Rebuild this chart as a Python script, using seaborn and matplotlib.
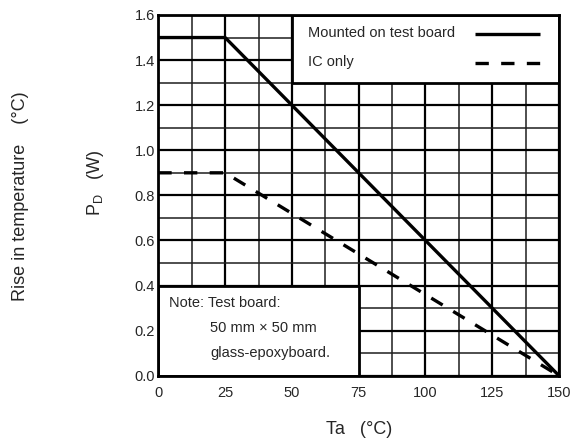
import matplotlib
matplotlib.use('Agg')
import matplotlib.pyplot as plt
from matplotlib.patches import Rectangle
from matplotlib.ticker import MultipleLocator, FormatStrFormatter
import seaborn as sns
import pandas as pd

# Derating curve data (Ta in degC, PD in W)
ta = [0, 25, 150]
pd_board = [1.5, 1.5, 0.0]
pd_ic = [0.9, 0.9, 0.0]

series_labels = ['Mounted on test board', 'IC only']
note_lines = ['Note: Test board:', '50 mm \u00d7 50 mm', 'glass-epoxyboard.']

df = pd.DataFrame({'Ta': ta, 'board': pd_board, 'ic': pd_ic})

sns.set_style('white')
plt.rcParams['font.family'] = ['Liberation Sans', 'DejaVu Sans']
plt.rcParams['mathtext.fontset'] = 'custom'
plt.rcParams['mathtext.rm'] = 'Liberation Sans'
plt.rcParams['mathtext.default'] = 'rm'

fig = plt.figure(figsize=(5.72, 4.41), dpi=100)
ax = fig.add_axes([0.2768, 0.148, 0.7005, 0.818])

lw = 2.4
dash = (0, (4.0, 3.7))

sns.lineplot(data=df, x='Ta', y='board', ax=ax, color='black', linewidth=lw, zorder=4)
sns.lineplot(data=df, x='Ta', y='ic', ax=ax, color='black', linewidth=lw,
             linestyle=dash, zorder=4)

ax.set_xlim(0, 150)
ax.set_ylim(0, 1.6)
ax.xaxis.set_major_locator(MultipleLocator(25))
ax.xaxis.set_minor_locator(MultipleLocator(12.5))
ax.yaxis.set_major_locator(MultipleLocator(0.2))
ax.yaxis.set_minor_locator(MultipleLocator(0.1))
ax.yaxis.set_major_formatter(FormatStrFormatter('%.1f'))

ax.set_axisbelow(True)
ax.grid(which='major', color='black', linewidth=1.6)
ax.grid(which='minor', color='#1e1e1e', linewidth=1.1)
ax.tick_params(which='both', length=0, labelsize=10.5)
ax.tick_params(axis='x', pad=7.5)
ax.tick_params(axis='y', pad=2.5)

for s in ax.spines.values():
    s.set_visible(True)
    s.set_color('black')
    s.set_linewidth(2.0)

# white boxes hiding the grid (legend area and note area)
ax.add_patch(Rectangle((50, 1.3), 100, 0.3, facecolor='white', edgecolor='black',
                       linewidth=2.0, zorder=2))
ax.add_patch(Rectangle((0, 0), 75, 0.4, facecolor='white', edgecolor='black',
                       linewidth=2.0, zorder=2))

# legend drawn inside the top-right box
ax.text(56.2, 1.519, series_labels[0], fontsize=10.5, va='center', ha='left', zorder=5)
ax.text(56.2, 1.393, series_labels[1], fontsize=10.5, va='center', ha='left', zorder=5)
ax.plot([118.4, 142.7], [1.514, 1.514], color='black', linewidth=lw, zorder=5,
        solid_capstyle='butt')
ax.plot([118.4, 142.7], [1.389, 1.389], color='black', linewidth=lw, zorder=5,
        linestyle=(0, (4.0, 3.7)), dash_capstyle='butt')

# note text
ax.text(4.1, 0.324, note_lines[0], fontsize=10.5, va='center', ha='left', zorder=5)
ax.text(19.4, 0.210, note_lines[1], fontsize=10.5, va='center', ha='left', zorder=5)
ax.text(19.4, 0.099, note_lines[2], fontsize=10.5, va='center', ha='left', zorder=5)

ax.set_xlabel('Ta   (\u00b0C)', fontsize=13)
ax.set_ylabel('P$_\\mathrm{D}$   (W)', fontsize=13)
ax.xaxis.set_label_coords(0.5, -0.125)
ax.yaxis.set_label_coords(-0.13, 0.534)

fig.text(0.035, 0.554, 'Rise in temperature    (\u00b0C)', rotation=90,
         ha='center', va='center', fontsize=13)

fig.savefig('out.png', dpi=100)
